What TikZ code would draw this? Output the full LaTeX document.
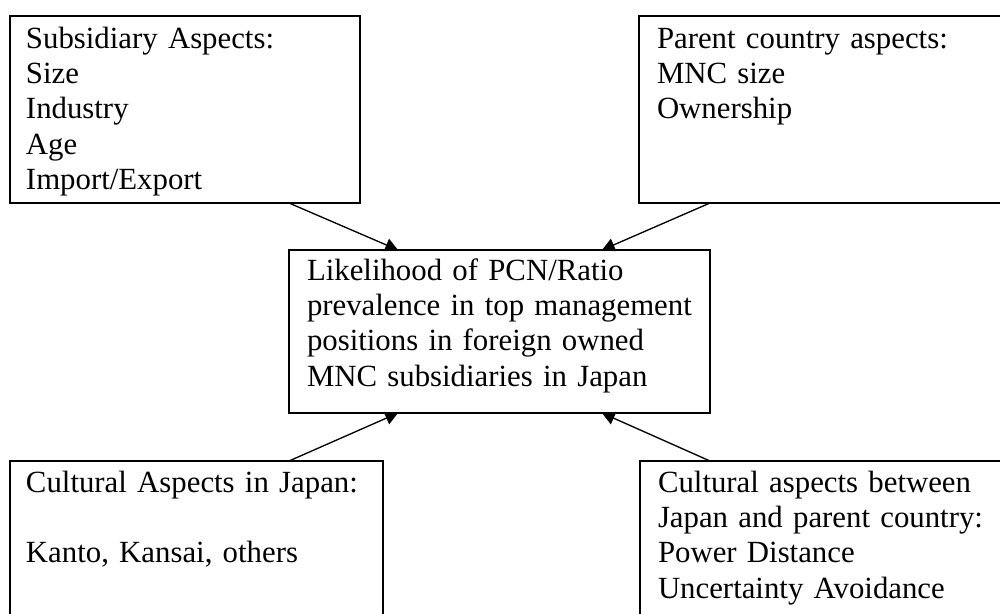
\documentclass[tikz,border=0pt]{standalone}
\usepackage{fontspec}
\setmainfont{Liberation Serif}
\usetikzlibrary{arrows.meta,calc}
\tikzset{
  box/.style={draw=black, line width=1pt, rectangle, inner sep=0pt, outer sep=0pt, anchor=north west},
  txt/.style={anchor=base west, inner sep=0pt, outer sep=0pt, align=left, text width=330pt,
    font=\fontsize{23.1pt}{26.6pt}\selectfont},
  arr/.style={draw=black, line width=1pt, -{Triangle[length=9.5pt,width=10pt]}}
}
\begin{document}
\begin{tikzpicture}[x=0.75pt,y=-0.75pt]
\useasboundingbox (0,0) rectangle (1000,614);
\clip (0,0) rectangle (1000,614);
% boxes
\node[box, minimum width=262.5pt, minimum height=140.25pt] (tl) at (10,16) {};
\node[box, minimum width=278.25pt, minimum height=140.25pt] (tr) at (639,16) {};
\node[box, minimum width=315.75pt, minimum height=122.25pt] (c) at (289,250) {};
\node[box, minimum width=279.75pt, minimum height=126.75pt] (bl) at (10,461) {};
\node[box, minimum width=277.5pt, minimum height=126.75pt] (br) at (640,461) {};
% texts
\node[txt] (tlt) at (26,48) {Subsidiary Aspects:\\Size\\Industry\\Age\\Import/Export};
\node[txt] (trt) at (657,48) {Parent country aspects:\\MNC size\\Ownership};
\node[txt] (ct) at (307,280) {Likelihood of PCN/Ratio\\prevalence in top management\\positions in foreign owned\\MNC subsidiaries in Japan};
\node[txt] (blt) at (26,492) {Cultural Aspects in Japan:\\\mbox{}\\Kanto, Kansai, others};
\node[txt] (brt) at (658,492) {Cultural aspects between\\Japan and parent country:\\Power Distance\\Uncertainty Avoidance};
% arrows
\draw[arr] (tl.south -| c.west) -- ([xshift=81.75pt]c.north west);
\draw[arr] (tr.south -| c.east) -- ([xshift=-81pt]c.north east);
\draw[arr] (bl.north -| c.west) -- ([xshift=81.75pt]c.south west);
\draw[arr] (br.north -| c.east) -- ([xshift=-81pt]c.south east);
\end{tikzpicture}
\end{document}
